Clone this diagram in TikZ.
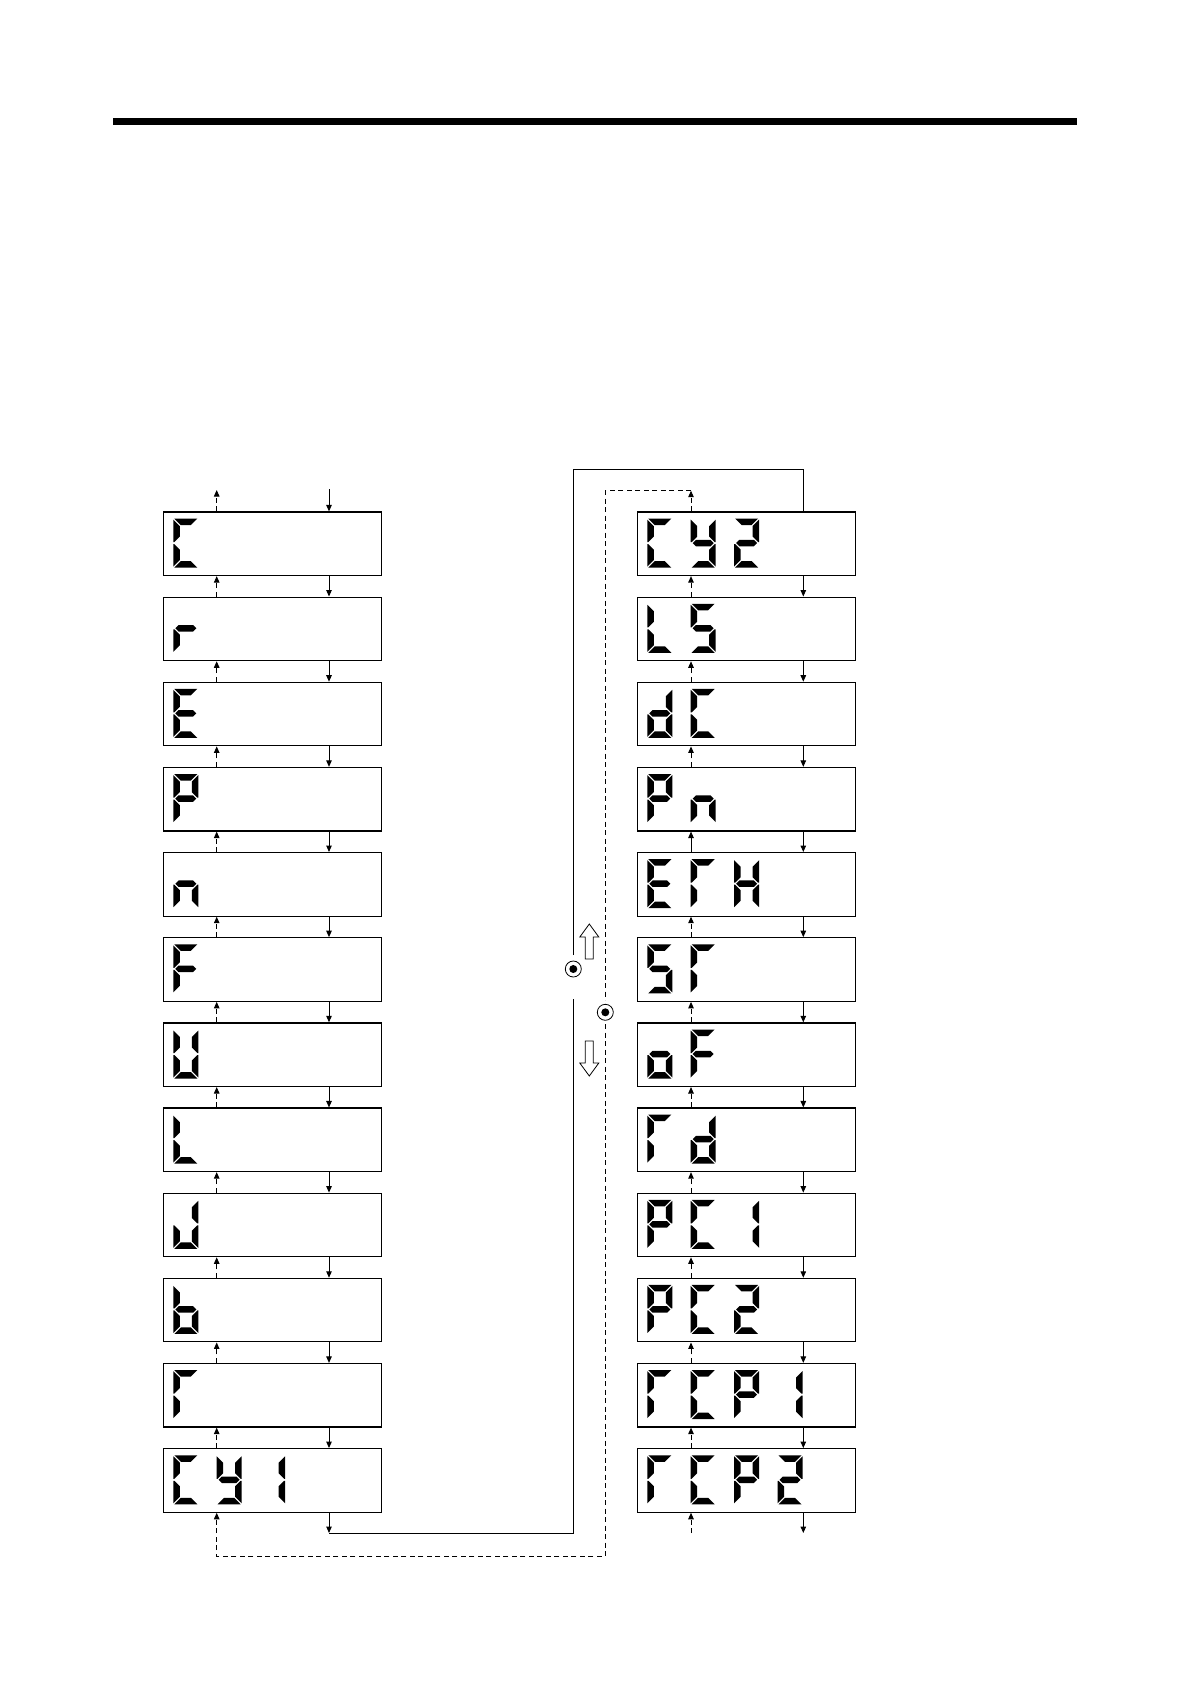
\documentclass[tikz,border=0pt]{standalone}
\usetikzlibrary{arrows.meta}
% seven-segment pieces (local units, W=25, H=49)
\newcommand\SA{\fill (1,0) -- (24,0) -- (17.5,6.5) -- (7.5,6.5) -- cycle;}
\newcommand\SB{\fill (25,1) -- (25,23.5) -- (24,23.5) -- (18.5,18) -- (18.5,7.5) -- cycle;}
\newcommand\SC{\fill (25,48) -- (25,25.5) -- (24,25.5) -- (18.5,31) -- (18.5,41.5) -- cycle;}
\newcommand\SD{\fill (1,49) -- (24,49) -- (17.5,42.5) -- (7.5,42.5) -- cycle;}
\newcommand\SE{\fill (0,48) -- (0,25.5) -- (1,25.5) -- (6.5,31) -- (6.5,41.5) -- cycle;}
\newcommand\SF{\fill (0,1) -- (0,23.5) -- (1,23.5) -- (6.5,18) -- (6.5,7.5) -- cycle;}
\newcommand\SG{\fill (2,24.5) -- (5.25,21.25) -- (19.75,21.25) -- (23,24.5) -- (19.75,27.75) -- (5.25,27.75) -- cycle;}
\newcommand\chC{\SA\SD\SE\SF}
\newcommand\chr{\SE\SG}
\newcommand\chE{\SA\SD\SE\SF\SG}
\newcommand\chP{\SA\SB\SE\SF\SG}
\newcommand\chn{\SC\SE\SG}
\newcommand\chF{\SA\SE\SF\SG}
\newcommand\chU{\SB\SC\SD\SE\SF}
\newcommand\chL{\SD\SE\SF}
\newcommand\chJ{\SB\SC\SD\SE}
\newcommand\chb{\SC\SD\SE\SF\SG}
\newcommand\chGam{\SA\SE\SF}
\newcommand\chy{\SB\SC\SD\SF\SG}
\newcommand\chone{\SB\SC}
\newcommand\chtwo{\SA\SB\SD\SE\SG}
\newcommand\chS{\SA\SC\SD\SF\SG}
\newcommand\chd{\SB\SC\SD\SE\SG}
\newcommand\chH{\SB\SC\SE\SF\SG}
\newcommand\cho{\SC\SD\SE\SG}
% digit: #1 column x, #2 row, #3 position, #4 character
\newcommand\dg[4]{\begin{scope}[shift={({#1+#3*43.4},{518.6+#2*85.15})}]#4\end{scope}}
\begin{document}
\begin{tikzpicture}[x=1pt,y=-1pt,
  dispbox/.style={draw, line width=1.2pt, minimum width=218.4pt, minimum height=63.5pt, inner sep=0pt, fill=white},
  fwdflow/.style={line width=1pt, -{Triangle[length=6.5pt,width=5.5pt]}},
  retflow/.style={fwdflow, dash pattern=on 5pt off 3.5pt},
  loopline/.style={line width=1pt},
  retline/.style={line width=1pt, dash pattern=on 5pt off 3.5pt},
  hollow/.style={draw, line width=0.8pt, fill=white},
  dialring/.style={draw, line width=0.8pt, fill=white}]
\fill[white] (0,0) rectangle (1190,1684);
\useasboundingbox (0,0) rectangle (1190,1684);
% header bar
\fill[black] (113,118) rectangle (1077,125);
% x positions of connector columns
\coordinate (xLup) at (216.7,0);
\coordinate (xLdn) at (329,0);
\coordinate (xRup) at (691,0);
\coordinate (xRdn) at (803.3,0);
% boxes
\foreach \i in {1,...,12}{
  \node[dispbox] (L\i) at (272.5,{543.75+(\i-1)*85.15}) {};
  \node[dispbox] (R\i) at (746.5,{543.75+(\i-1)*85.15}) {};
}
% connectors between boxes
\foreach \i [evaluate=\i as \j using int(\i+1)] in {1,...,11}{
  \draw[fwdflow] (L\i.south -| xLdn) -- (L\j.north -| xLdn);
  \draw[retflow] (L\j.north -| xLup) -- (L\i.south -| xLup);
  \draw[fwdflow] (R\i.south -| xRdn) -- (R\j.north -| xRdn);
}
\foreach \i [evaluate=\i as \j using int(\i+1)] in {1,2,3,5,6,7,8,9,10,11}{
  \draw[retflow] (R\j.north -| xRup) -- (R\i.south -| xRup);
}
\draw[fwdflow] (R5.north -| xRup) -- (R4.south -| xRup);
% free ends
\coordinate (LtopUp) at (216.7,490);
\coordinate (LtopDn) at (329,489);
\coordinate (RbotUp) at (691,1533);
\coordinate (RbotDn) at (803.3,1533);
\draw[retflow] (L1.north -| xLup) -- (LtopUp);
\draw[fwdflow] (LtopDn) -- (L1.north -| xLdn);
\draw[retflow] (RbotUp) -- (R12.south -| xRup);
\draw[fwdflow] (R12.south -| xRdn) -- (RbotDn);
% solid loop L12 -> R1
\coordinate (s1) at (329,1533);
\coordinate (s2) at (573.3,1533);
\coordinate (s3) at (573.3,999);
\coordinate (s4) at (573.3,955);
\coordinate (s5) at (573.3,469);
\coordinate (s6) at (803.3,469);
\draw[fwdflow] (L12.south -| xLdn) -- (s1);
\draw[loopline] (s1) -- (s2) -- (s3);
\draw[loopline] (s4) -- (s5) -- (s6) -- (R1.north -| xRdn);
% dashed loop R1 -> L12
\coordinate (d1) at (691,490.7);
\coordinate (d2) at (605.3,490.7);
\coordinate (d3) at (605.3,1000);
\coordinate (d4) at (605.3,1024);
\coordinate (d5) at (605.3,1556);
\coordinate (d6) at (216.7,1556);
\draw[retflow] (R1.north -| xRup) -- (d1);
\draw[retline] (d1) -- (d2) -- (d3);
\draw[retflow] (d4) -- (d5) -- (d6) -- (L12.south -| xLup);
% dial symbols
\draw[dialring] (573.3,969) circle (8);
\fill (573.3,969) circle (4);
\draw[dialring] (605.3,1012.3) circle (8);
\fill (605.3,1012.3) circle (4);
% hollow arrows
\draw[hollow] (585.3,959) -- (585.3,937) -- (579.8,937) -- (589.3,924) -- (598.8,937) -- (593.3,937) -- (593.3,959) -- cycle;
\draw[hollow] (585.3,1041) -- (585.3,1063) -- (579.8,1063) -- (589.3,1076) -- (598.8,1063) -- (593.3,1063) -- (593.3,1041) -- cycle;
% left column characters
\dg{173.3}{0}{0}{\chC}
\dg{173.3}{1}{0}{\chr}
\dg{173.3}{2}{0}{\chE}
\dg{173.3}{3}{0}{\chP}
\dg{173.3}{4}{0}{\chn}
\dg{173.3}{5}{0}{\chF}
\dg{173.3}{6}{0}{\chU}
\dg{173.3}{7}{0}{\chL}
\dg{173.3}{8}{0}{\chJ}
\dg{173.3}{9}{0}{\chb}
\dg{173.3}{10}{0}{\chGam}
\dg{173.3}{11}{0}{\chC}\dg{173.3}{11}{1}{\chy}\dg{173.3}{11}{2}{\chone}
% right column characters
\dg{647.3}{0}{0}{\chC}\dg{647.3}{0}{1}{\chy}\dg{647.3}{0}{2}{\chtwo}
\dg{647.3}{1}{0}{\chL}\dg{647.3}{1}{1}{\chS}
\dg{647.3}{2}{0}{\chd}\dg{647.3}{2}{1}{\chC}
\dg{647.3}{3}{0}{\chP}\dg{647.3}{3}{1}{\chn}
\dg{647.3}{4}{0}{\chE}\dg{647.3}{4}{1}{\chGam}\dg{647.3}{4}{2}{\chH}
\dg{647.3}{5}{0}{\chS}\dg{647.3}{5}{1}{\chGam}
\dg{647.3}{6}{0}{\cho}\dg{647.3}{6}{1}{\chF}
\dg{647.3}{7}{0}{\chGam}\dg{647.3}{7}{1}{\chd}
\dg{647.3}{8}{0}{\chP}\dg{647.3}{8}{1}{\chC}\dg{647.3}{8}{2}{\chone}
\dg{647.3}{9}{0}{\chP}\dg{647.3}{9}{1}{\chC}\dg{647.3}{9}{2}{\chtwo}
\dg{647.3}{10}{0}{\chGam}\dg{647.3}{10}{1}{\chC}\dg{647.3}{10}{2}{\chP}\dg{647.3}{10}{3}{\chone}
\dg{647.3}{11}{0}{\chGam}\dg{647.3}{11}{1}{\chC}\dg{647.3}{11}{2}{\chP}\dg{647.3}{11}{3}{\chtwo}
\end{tikzpicture}
\end{document}
